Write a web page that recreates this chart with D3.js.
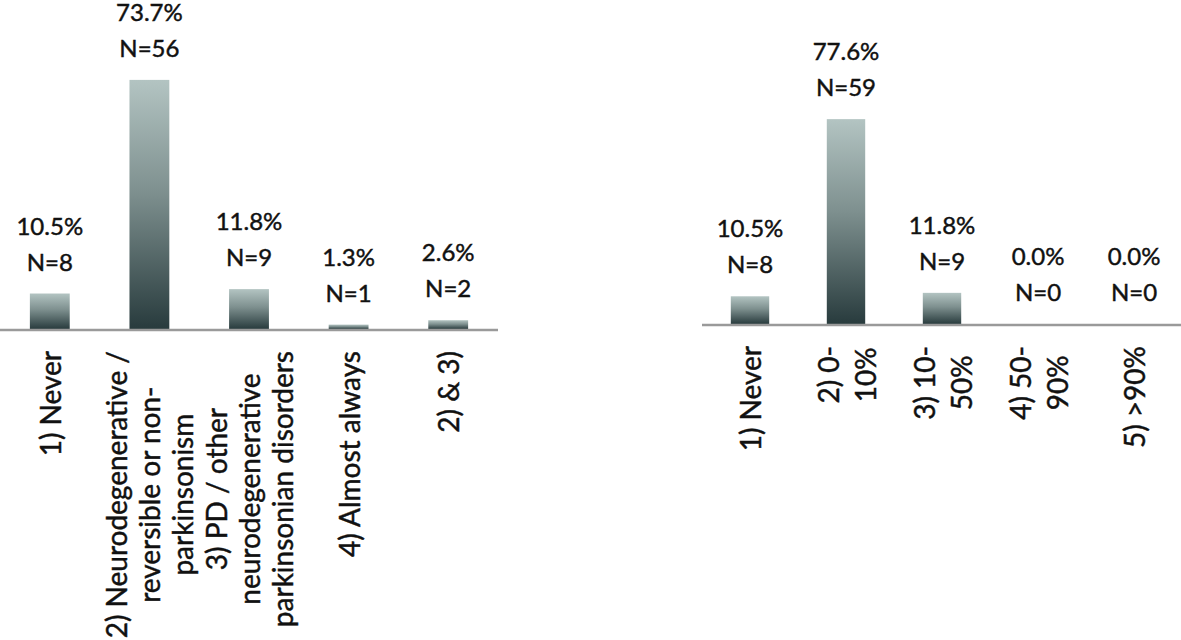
<!DOCTYPE html>
<html>
<head>
<meta charset="utf-8">
<script src="https://cdn.jsdelivr.net/npm/d3@7"></script>
<style>
  body { margin: 0; background: #fff; }
  text { font-family: Lato, "Noto Sans", sans-serif; fill: #111; stroke: #111; stroke-width: 0.45px; }
</style>
</head>
<body>
<script>
// left chart: when is the scan used
const labelsL = [
  ["1) Never"],
  ["2) Neurodegenerative /", "reversible or non-", "parkinsonism"],
  ["3) PD / other", "neurodegenerative", "parkinsonian disorders"],
  ["4) Almost always"],
  ["2) & 3)"]
]
const pctL = [10.5, 73.7, 11.8, 1.3, 2.6]
const nL = [8, 56, 9, 1, 2]

// right chart: share of patients
const labelsR = [
  ["1) Never"],
  ["2) 0-", "10%"],
  ["3) 10-", "50%"],
  ["4) 50-", "90%"],
  ["5) >90%"]
]
const pctR = [10.5, 77.6, 11.8, 0.0, 0.0]
const nR = [8, 59, 9, 0, 0]

const W = 1181, H = 640

const svg = d3.select("body")
  .append("svg")
  .attr("width", W)
  .attr("height", H)

// bar gradient, light on top, dark at the bottom
const grad = svg.append("defs").append("linearGradient")
  .attr("id", "barGrad")
  .attr("x1", 0).attr("y1", 0).attr("x2", 0).attr("y2", 1)
grad.append("stop").attr("offset", "0%").attr("stop-color", "#b3c4c2")
grad.append("stop").attr("offset", "45%").attr("stop-color", "#7e908f")
grad.append("stop").attr("offset", "100%").attr("stop-color", "#283b3d")

function drawChart(opt) {
  const idx = d3.range(opt.pct.length)

  const x = d3.scaleBand()
    .domain(idx)
    .range([opt.x0, opt.x1])
    .paddingInner(0.6)
    .paddingOuter(0.3)

  const y = d3.scaleLinear()
    .domain([0, 80])
    .range([opt.base, opt.base - 80 * opt.pxPerPct])

  const g = svg.append("g")

  g.selectAll("rect.bar")
    .data(idx)
    .enter()
    .append("rect")
    .attr("class", "bar")
    .attr("x", i => x(i))
    .attr("y", i => y(opt.pct[i]))
    .attr("width", x.bandwidth())
    .attr("height", i => opt.base - y(opt.pct[i]))
    .attr("fill", "url(#barGrad)")

  // baseline
  g.append("line")
    .attr("x1", opt.x0).attr("x2", opt.lineEnd)
    .attr("y1", opt.base + 1).attr("y2", opt.base + 1)
    .attr("stroke", "#9a9a9a")
    .attr("stroke-width", 2.5)

  const cx = i => x(i) + x.bandwidth() / 2

  // value labels
  g.selectAll("text.pct")
    .data(idx)
    .enter()
    .append("text")
    .attr("class", "pct")
    .attr("x", cx)
    .attr("y", i => y(opt.pct[i]) - 59)
    .attr("text-anchor", "middle")
    .attr("font-size", "24px")
    .text(i => opt.pct[i].toFixed(1) + "%")

  g.selectAll("text.n")
    .data(idx)
    .enter()
    .append("text")
    .attr("class", "n")
    .attr("x", cx)
    .attr("y", i => y(opt.pct[i]) - 23)
    .attr("text-anchor", "middle")
    .attr("font-size", "24px")
    .text(i => "N=" + opt.n[i])

  // rotated category labels
  idx.forEach(i => {
    const lines = opt.labels[i]
    const lg = g.append("g")
      .attr("transform", `translate(${cx(i)},${opt.base + opt.gap}) rotate(-90)`)
    const ts = lg.selectAll("text")
      .data(lines)
      .enter()
      .append("text")
      .attr("font-size", "28px")
      .attr("text-anchor", "middle")
      .attr("dominant-baseline", "central")
      .attr("y", (d, k) => (k - (lines.length - 1) / 2) * opt.lineGap)
      .text(d => d)
    let maxLen = 0
    ts.each(function() { maxLen = Math.max(maxLen, this.getComputedTextLength()) })
    ts.attr("x", -maxLen / 2)
  })
}

drawChart({
  labels: labelsL, pct: pctL, n: nL,
  x0: 0, x1: 498, lineEnd: 498,
  base: 329, pxPerPct: 3.38, gap: 22, lineGap: 33
})

drawChart({
  labels: labelsR, pct: pctR, n: nR,
  x0: 702, x1: 1182, lineEnd: 1181,
  base: 324, pxPerPct: 2.64, gap: 22, lineGap: 37
})
</script>
</body>
</html>
